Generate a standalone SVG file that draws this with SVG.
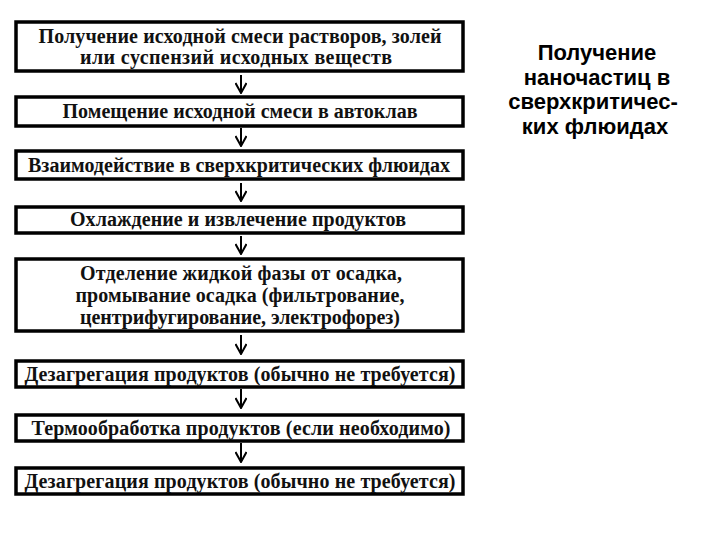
<svg xmlns="http://www.w3.org/2000/svg" width="720" height="540" viewBox="0 0 720 540">
<defs>
<style>
.box{fill:#fff;stroke:#000;stroke-width:3.5}
.t{font-family:"Liberation Serif","Times New Roman",serif;font-weight:bold;font-size:20px;fill:#111;text-anchor:middle}
.title{font-family:"Liberation Sans",Arial,sans-serif;font-weight:bold;font-size:22px;fill:#000;text-anchor:middle}
.arr{fill:none;stroke:#000;stroke-width:2}
</style>
<marker id="ah" viewBox="0 0 12 12" refX="11" refY="6" markerWidth="12" markerHeight="12" markerUnits="userSpaceOnUse" orient="auto">
<path d="M1,0.5 L11,6 L1,11.5" fill="none" stroke="#000" stroke-width="2"/>
</marker>
</defs>
<rect width="720" height="540" fill="#fff"/>
<g id="n1"><rect class="box" x="16" y="22" width="447" height="49"/>
<text class="t" x="240" y="43" textLength="403" lengthAdjust="spacing">Получение исходной смеси растворов, золей</text>
<text class="t" x="236" y="64" textLength="312" lengthAdjust="spacing">или суспензий исходных веществ</text></g>
<g id="n2"><rect class="box" x="16" y="97" width="447" height="29"/>
<text class="t" x="240" y="118" textLength="355" lengthAdjust="spacing">Помещение исходной смеси в автоклав</text></g>
<g id="n3"><rect class="box" x="16" y="151" width="447" height="28"/>
<text class="t" x="239" y="172" textLength="422" lengthAdjust="spacing">Взаимодействие в сверхкритических флюидах</text></g>
<g id="n4"><rect class="box" x="16" y="207" width="447" height="26"/>
<text class="t" x="238" y="226" textLength="336" lengthAdjust="spacing">Охлаждение и извлечение продуктов</text></g>
<g id="n5"><rect class="box" x="16" y="259" width="447" height="72"/>
<text class="t" x="241" y="280" textLength="322" lengthAdjust="spacing">Отделение жидкой фазы от осадка,</text>
<text class="t" x="240" y="302" textLength="329" lengthAdjust="spacing">промывание осадка (фильтрование,</text>
<text class="t" x="240" y="324" textLength="320" lengthAdjust="spacing">центрифугирование, электрофорез)</text></g>
<g id="n6"><rect class="box" x="16" y="361" width="447" height="26"/>
<text class="t" x="240" y="381" textLength="431" lengthAdjust="spacing">Дезагрегация продуктов (обычно не требуется)</text></g>
<g id="n7"><rect class="box" x="16" y="415" width="447" height="26"/>
<text class="t" x="241" y="435" textLength="419" lengthAdjust="spacing">Термообработка продуктов (если необходимо)</text></g>
<g id="n8"><rect class="box" x="16" y="468" width="447" height="26"/>
<text class="t" x="240" y="488" textLength="431" lengthAdjust="spacing">Дезагрегация продуктов (обычно не требуется)</text></g>
<g id="connectors">
<path class="arr" marker-end="url(#ah)" d="M241,75 V93"/>
<path class="arr" marker-end="url(#ah)" d="M241,128 V146"/>
<path class="arr" marker-end="url(#ah)" d="M241,183 V201"/>
<path class="arr" marker-end="url(#ah)" d="M241,236 V254"/>
<path class="arr" marker-end="url(#ah)" d="M241,335 V354"/>
<path class="arr" marker-end="url(#ah)" d="M241,389 V408"/>
<path class="arr" marker-end="url(#ah)" d="M241,443 V462"/>
</g>
<g id="title">
<text class="title" x="597" y="60">Получение</text>
<text class="title" x="597" y="85">наночастиц в</text>
<text class="title" x="593" y="109">сверхкритичес-</text>
<text class="title" x="595" y="134">ких флюидах</text>
</g>
</svg>
